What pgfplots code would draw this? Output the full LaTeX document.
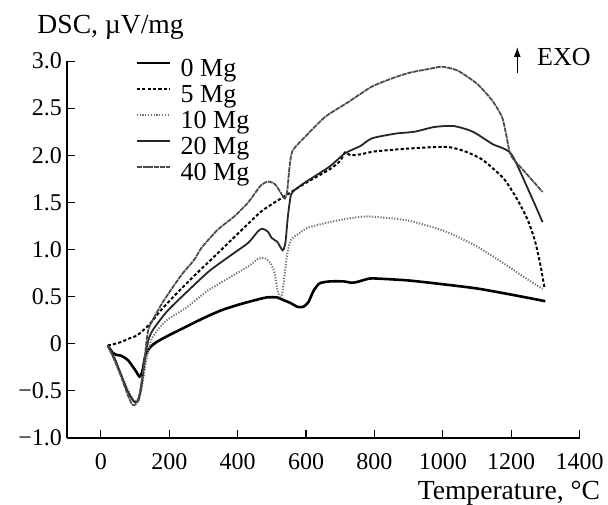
\documentclass[border=0pt]{standalone}
\usepackage{fontspec}
\setmainfont{Liberation Serif}
\usepackage{pgfplots}
\pgfplotsset{compat=1.18}
\usetikzlibrary{calc, arrows.meta}

% curve styles
\tikzset{
  mg0/.style={black, line width=1.3pt},
  mg5/.style={black, line width=1pt, dash pattern=on 1.6pt off 1.1pt},
  mg10/.style={black!55, line width=1pt, dash pattern=on 0.6pt off 0.8pt},
  mg20/.style={black!85, line width=0.9pt},
  mg40/.style={black!70, line width=0.9pt, dash pattern=on 2.5pt off 0.4pt},
}

\begin{document}
\begin{tikzpicture}
\begin{axis}[
  scale only axis,
  width=256.4pt, height=188.3pt,
  xmin=-100, xmax=1400, ymin=-1, ymax=3,
  axis lines=left,
  axis line style={line width=0.8pt, -},
  tick align=inside,
  major tick length=4pt,
  every tick/.style={black, line width=0.6pt},
  xtick={0,200,...,1400},
  xticklabels={0,200,400,600,800,1000,1200,1400},
  ytick={-1,-0.5,0,0.5,1,1.5,2,2.5,3},
  yticklabels={−1.0,−0.5,0,0.5,1.0,1.5,2.0,2.5,3.0},
  xticklabel style={font=\fontsize{12}{14}\selectfont, anchor=north, inner sep=0pt, yshift=-7.5pt},
  yticklabel style={font=\fontsize{12}{14}\selectfont, anchor=east, inner sep=0pt, xshift=-2.2pt},
  xlabel={Temperature, °C},
  ylabel={DSC, µV/mg},
  every axis x label/.style={at={(rel axis cs:1,0)}, anchor=base east, xshift=10.5pt, yshift=-30.7pt, inner sep=0pt, font=\fontsize{13.8}{16}\selectfont},
  every axis y label/.style={at={(rel axis cs:0,1)}, anchor=base west, xshift=-14.8pt, yshift=14pt, inner sep=0pt, font=\fontsize{13.8}{16}\selectfont},
  clip=false,
  legend cell align=left,
  legend style={at={(rel axis cs:0,1)}, anchor=north west, xshift=34.2pt, yshift=1.5pt,
    draw=none, fill=none, inner sep=0pt, column sep=4.8pt, row sep=1pt,
    font=\fontsize{13}{15}\selectfont,
    nodes={inner sep=0pt, text height=9pt, text depth=3pt}},
  legend image code/.code={\draw[#1] (0pt,3.8pt) -- (16.5pt,3.8pt);},
]
% 0 Mg
\addplot[mg0, smooth, tension=0.4] coordinates {
(20,-0.02) (35,-0.10) (45,-0.12) (60,-0.13) (80,-0.18) (100,-0.28) (113,-0.35)
(121,-0.30) (130,-0.13) (142,-0.05) (160,0.01) (200,0.09) (250,0.18) (300,0.27)
(350,0.35) (400,0.41) (450,0.46) (485,0.49) (515,0.49) (535,0.46) (555,0.43)
(575,0.39) (592,0.39) (607,0.44) (622,0.56) (640,0.64) (670,0.66) (710,0.66)
(735,0.645) (755,0.66) (785,0.69) (810,0.69) (900,0.67) (1000,0.63) (1100,0.585)
(1200,0.52) (1300,0.45)
};
\addlegendentry{0 Mg}
% 5 Mg
\addplot[mg5, smooth, tension=0.4] coordinates {
(20,-0.02) (54,0.01) (80,0.05) (107,0.09) (141,0.20) (170,0.33) (205,0.47)
(273,0.72) (342,0.96) (410,1.20) (468,1.40) (500,1.48) (544,1.58) (601,1.71)
(669,1.85) (700,1.94) (714,2.03) (730,2.00) (760,2.01) (800,2.04) (896,2.07)
(1009,2.09) (1066,2.04) (1113,1.96) (1150,1.85) (1181,1.74) (1210,1.58)
(1230,1.45) (1250,1.30) (1269,1.10) (1282,0.90) (1290,0.75) (1298,0.58)
};
\addlegendentry{5 Mg}
% 10 Mg
\addplot[mg10, smooth, tension=0.4] coordinates {
(20,-0.02) (40,-0.15) (60,-0.33) (80,-0.50) (95,-0.60) (108,-0.62) (118,-0.50)
(128,-0.28) (138,-0.08) (150,0.06) (170,0.16) (193,0.25) (249,0.38) (312,0.56)
(385,0.72) (431,0.82) (460,0.90) (478,0.91) (495,0.86) (507,0.76) (516,0.58)
(523,0.50) (530,0.52) (537,0.72) (545,0.95) (556,1.10) (580,1.17) (605,1.23)
(669,1.29) (726,1.33) (781,1.35) (850,1.33) (907,1.30) (1009,1.19) (1100,1.03)
(1179,0.85) (1236,0.71) (1292,0.58)
};
\addlegendentry{10 Mg}
% 20 Mg
\addplot[mg20, smooth, tension=0.4] coordinates {
(20,-0.02) (40,-0.16) (60,-0.34) (80,-0.52) (98,-0.62) (110,-0.60) (120,-0.42)
(130,-0.12) (140,0.05) (153,0.15) (193,0.34) (249,0.54) (317,0.77) (385,0.95)
(431,1.07) (459,1.19) (472,1.22) (488,1.19) (500,1.12) (516,1.08) (532,0.99)
(540,1.08) (547,1.35) (556,1.58) (570,1.64) (601,1.72) (669,1.88) (714,2.02)
(760,2.10) (793,2.18) (862,2.23) (918,2.25) (975,2.30) (1032,2.31) (1088,2.25)
(1145,2.12) (1199,2.02) (1247,1.66) (1292,1.29)
};
\addlegendentry{20 Mg}
% 40 Mg
\addplot[mg40, smooth, tension=0.4] coordinates {
(20,-0.02) (40,-0.18) (60,-0.36) (78,-0.54) (92,-0.65) (103,-0.64) (114,-0.52)
(125,-0.25) (137,0.12) (150,0.24) (181,0.44) (205,0.57) (238,0.74) (273,0.89)
(295,1.02) (342,1.21) (390,1.35) (431,1.50) (468,1.68) (490,1.72) (510,1.69)
(528,1.59) (538,1.54) (545,1.62) (552,1.88) (561,2.05) (601,2.21) (657,2.41)
(726,2.57) (793,2.73) (862,2.83) (907,2.88) (964,2.92) (998,2.94) (1043,2.90)
(1100,2.76) (1145,2.58) (1173,2.41) (1185,2.23) (1199,2.00) (1236,1.84) (1292,1.61)
};
\addlegendentry{40 Mg}

\draw[-{Latex[length=5pt,width=3.5pt]}, line width=0.6pt] (axis cs:1218,2.87) -- (axis cs:1218,3.15);
\node[anchor=west, inner sep=0pt, font=\fontsize{13}{15}\selectfont] at (axis cs:1275,3.04) {EXO};
\coordinate (bl) at (rel axis cs:0,0);
\end{axis}
\pgfresetboundingbox
\path ($(bl)+(-33.35pt,-33.15pt)$) rectangle ($(bl)+(270.65pt,218.85pt)$);
\end{tikzpicture}
\end{document}
